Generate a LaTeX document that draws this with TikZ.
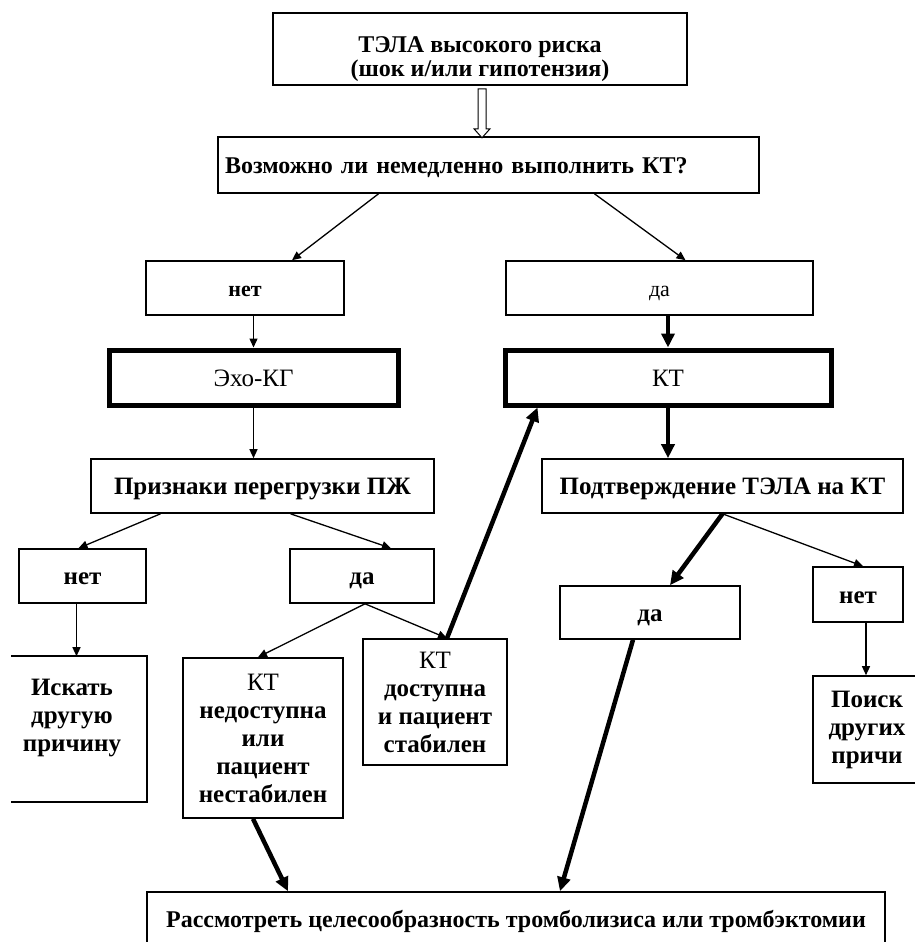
\documentclass[tikz,border=0pt]{standalone}
\usepackage{fontspec}
\setmainfont{Liberation Serif}
\usetikzlibrary{arrows.meta,calc}

\begin{document}
\begin{tikzpicture}[x=1pt,y=-1pt]
        \tikzstyle{every node} = [rectangle, inner sep=0pt, align=center]
        \tikzstyle{box} = [draw, line width=1.6pt, font=\bfseries\fontsize{25}{28}\selectfont]
        \tikzstyle{topbox} = [draw, line width=1.6pt, font=\bfseries\fontsize{24}{24}\selectfont]
        \tikzstyle{heavy} = [draw, line width=5pt, font=\fontsize{25}{28}\selectfont]
        \tikzstyle{oneline} = [text height=20pt, text depth=3pt]
        \tikzstyle{link} = [line width=1.3pt, -{Triangle[length=9pt,width=8pt]}]
        \tikzstyle{boldlink} = [line width=4.5pt, -{Triangle[length=14pt,width=13pt]}]

        \fill[white] (0,0) rectangle (915,942);
        \useasboundingbox (0,0) rectangle (915,942);

        \node[topbox, minimum width=414, minimum height=72, text height=58pt, text depth=3pt] (tela) at (480,49) {ТЭЛА высокого риска\\(шок и/или гипотензия)};
        \node[topbox, oneline, minimum width=541, minimum height=56, text width=527, align=left] (vopros) at (488.5,165) {Возможно ли немедленно выполнить КТ?};
        \node[box, oneline, minimum width=198, minimum height=54, font=\bfseries\fontsize{22}{26}\selectfont] (net1) at (245,288) {нет};
        \node[box, oneline, minimum width=307, minimum height=54, font=\fontsize{22}{26}\selectfont] (da1) at (659.5,288) {да};
        \node[heavy, oneline, minimum width=289, minimum height=55] (echo) at (253.5,377.5) {Эхо-КГ};
        \node[heavy, oneline, minimum width=326, minimum height=55] (kt) at (668,377.5) {КТ};
        \node[box, oneline, minimum width=343, minimum height=54] (priznaki) at (262.5,486) {Признаки перегрузки ПЖ};
        \node[box, oneline, minimum width=361, minimum height=54] (podtv) at (722.5,486) {Подтверждение ТЭЛА на КТ};
        \node[box, oneline, minimum width=127, minimum height=54] (net2) at (82.5,576) {нет};
        \node[box, oneline, minimum width=144, minimum height=54] (da2) at (362,576) {да};
        \node[box, draw=none, minimum width=148, minimum height=144] (iskat) at (72,729) {Искать\\другую\\причину\\\mbox{}};
        \node[box, minimum width=160, minimum height=160] (nedost) at (263,738) {{\mdseries КТ}\\недоступна\\или\\пациент\\нестабилен};
        \node[box, minimum width=144, minimum height=126] (dost) at (435,702) {{\mdseries КТ}\\доступна\\и пациент\\стабилен};
        \node[box, oneline, minimum width=180, minimum height=53] (da3) at (650,612.5) {да};
        \node[box, oneline, minimum width=90, minimum height=55] (net3) at (858,594.5) {нет};
        \node[box, minimum width=108, minimum height=107] (poisk) at (867,729.5) {Поиск\\других\\причи};
        \node[topbox, oneline, minimum width=738, minimum height=54] (reshenie) at (516,919) {Рассмотреть целесообразность тромболизиса или тромбэктомии};

        \draw[line width=1.6pt] ($(iskat.north west)+(14,0)$) -- (iskat.north east) -- (iskat.south east) -- ($(iskat.south west)+(14,0)$);
        \draw[line width=1pt, fill=white] ($(tela.south)+(-2,3)$) -- ++(0,40) -- ++(-4,0) -- ++(8,9) -- ++(8,-9) -- ++(-4,0) -- ++(0,-40) -- cycle;

        \draw[link] ([xshift=-110]vopros.south) -- ([xshift=47]net1.north);
        \draw[link] ([xshift=106]vopros.south) -- ([xshift=26]da1.north);
        \draw[link] (echo.north |- net1.south) -- (echo.north);
        \draw[boldlink] (kt.north |- da1.south) -- (kt.north);
        \draw[link] (echo.south) -- (echo.south |- priznaki.north);
        \draw[boldlink] (kt.south) -- (kt.south |- podtv.north);
        \draw[link] ([xshift=-102]priznaki.south) -- ([xshift=-4]net2.north);
        \draw[link] ([xshift=28]priznaki.south) -- ([xshift=29]da2.north);
        \draw[link] ([xshift=-6]net2.south) -- ([xshift=-6]net2.south |- iskat.north);
        \draw[link] ([xshift=3]da2.south) -- ([xshift=-5]nedost.north);
        \draw[link] ([xshift=3]da2.south) -- ([xshift=12]dost.north);
        \draw[boldlink] ([xshift=12]dost.north) -- ([xshift=35]kt.south west);
        \draw[boldlink] (podtv.south) -- ([xshift=20]da3.north);
        \draw[link] (podtv.south) -- ([xshift=5]net3.north);
        \draw[link] ([xshift=8]net3.south) -- ([xshift=8]net3.south |- poisk.north);
        \draw[boldlink] ([xshift=-17]da3.south) -- ([xshift=44]reshenie.north);
        \draw[boldlink] ([xshift=-10]nedost.south) -- ([xshift=-228]reshenie.north);
\end{tikzpicture}
\end{document}
